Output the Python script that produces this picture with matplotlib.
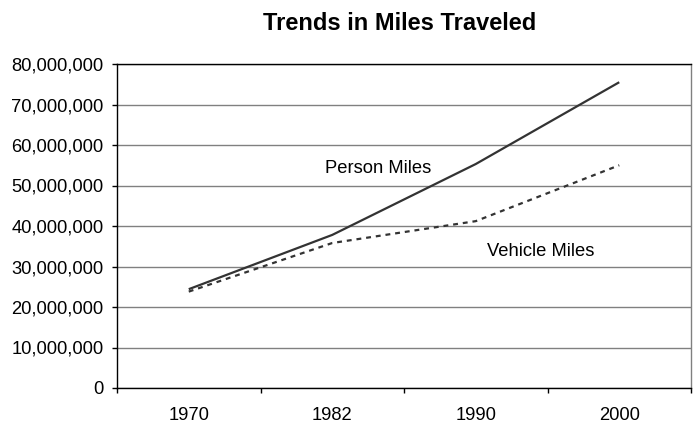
import numpy as np
import matplotlib.pyplot as plt
from matplotlib.ticker import FuncFormatter

# Data
years = ['1970', '1982', '1990', '2000']
person_miles = [24400000, 37800000, 55300000, 75500000]
vehicle_miles = [23800000, 35800000, 41200000, 55000000]

plt.rcParams['font.family'] = ['Liberation Sans', 'DejaVu Sans']

fig = plt.figure(figsize=(6.93, 4.24), dpi=100)
ax = fig.add_axes([117 / 693, 1 - 388 / 424, 574 / 693, 324 / 424])

x = np.arange(len(years))
line_color = '#333333'
ax.plot(x, person_miles, color=line_color, linewidth=1.6, solid_capstyle='butt')
ax.plot(x, vehicle_miles, color=line_color, linewidth=1.6, linestyle=(0, (2.2, 2.2)))

ax.set_xlim(-0.5, len(years) - 0.5)
ax.set_ylim(0, 80000000)
ax.set_yticks(np.arange(0, 80000001, 10000000))
ax.yaxis.set_major_formatter(FuncFormatter(lambda v, p: f'{int(v):,}'))
ax.set_xticks(x)
ax.set_xticklabels(years)
ax.set_xticks(np.arange(-0.5, len(years), 1), minor=True)
ax.tick_params(axis='x', which='major', length=0, labelsize=13.2, pad=14)
ax.tick_params(axis='x', which='minor', length=3.6, width=1, direction='out')
ax.tick_params(axis='y', length=3.6, width=1, labelsize=13.2, pad=6)

ax.grid(axis='y', color='#808080', linewidth=1)
ax.set_axisbelow(True)
for side in ['left', 'bottom', 'top']:
    ax.spines[side].set_color('black')
    ax.spines[side].set_linewidth(1)
ax.spines['right'].set_color('#808080')
ax.spines['right'].set_linewidth(1)

ax.text(1.32, 54300000, 'Person Miles', fontsize=13.2, ha='center', va='center')
ax.text(2.45, 33800000, 'Vehicle Miles', fontsize=13.2, ha='center', va='center')

fig.text(400 / 693, 1 - 23 / 424, 'Trends in Miles Traveled', fontsize=17,
         fontweight='bold', ha='center', va='center')

fig.savefig('out.png', dpi=100)
